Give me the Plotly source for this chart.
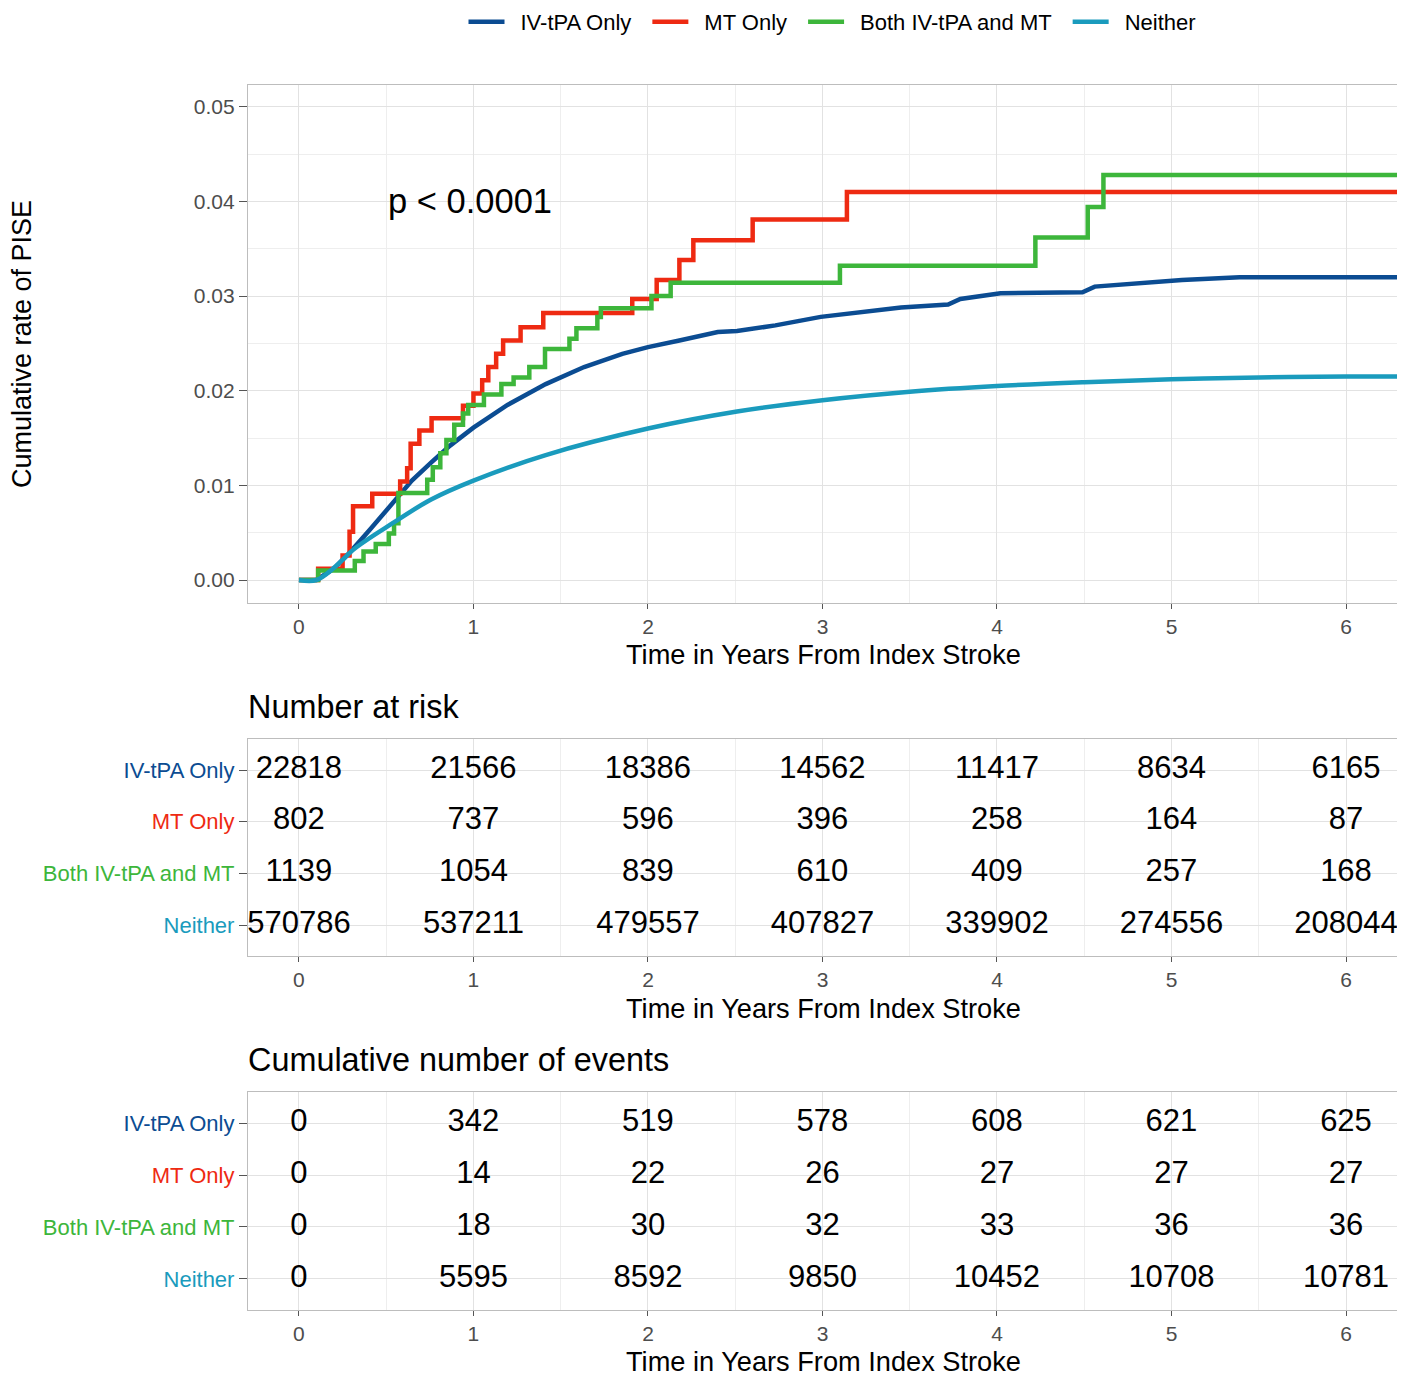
import plotly.graph_objects as go

# ---------------- data ----------------
groups = ["IV-tPA Only", "MT Only", "Both IV-tPA and MT", "Neither"]
colors = ["#0b4c92", "#ee2a12", "#3db63b", "#1a9bbd"]

# IV-tPA Only (many small steps -> dense curve)
ivtpa_t = [0, 0.10, 0.20, 0.296, 0.406, 0.537, 0.647, 0.757, 0.866, 1.0, 1.195, 1.414, 1.634, 1.853,
           2.0, 2.18, 2.40, 2.51, 2.73, 2.99, 3.22, 3.45, 3.72, 3.79, 4.02, 4.49, 4.56, 4.83, 5.06, 5.39, 6.3]
ivtpa_y = [0, 0, 0.0012, 0.0030, 0.0053, 0.0082, 0.0105, 0.0124, 0.0142, 0.0161, 0.0185, 0.0207, 0.0225, 0.0239,
           0.0246, 0.0253, 0.0262, 0.0263, 0.0269, 0.0278, 0.0283, 0.0288, 0.0291, 0.0297, 0.0303, 0.0304, 0.0310,
           0.0314, 0.0317, 0.0320, 0.0320]

# MT Only (step function)
mt_t = [0, 0.11, 0.25, 0.29, 0.31, 0.42, 0.58, 0.62, 0.64, 0.69, 0.76, 0.94, 1.0, 1.05, 1.085, 1.13, 1.17,
        1.27, 1.40, 1.91, 2.05, 2.18, 2.26, 2.60, 3.14, 6.3]
mt_y = [0, 0.0012, 0.0026, 0.0051, 0.0078, 0.0091, 0.0104, 0.0118, 0.0144, 0.0158, 0.0171, 0.0184, 0.0197,
        0.0211, 0.0225, 0.0239, 0.0253, 0.0267, 0.0282, 0.0297, 0.0317, 0.0338, 0.0359, 0.0381, 0.0410, 0.0410]

# Both IV-tPA and MT (step function)
both_t = [0, 0.11, 0.32, 0.37, 0.44, 0.515, 0.545, 0.57, 0.735, 0.767, 0.81, 0.845, 0.89, 0.94, 0.97, 1.06,
          1.16, 1.23, 1.32, 1.41, 1.55, 1.59, 1.71, 1.73, 2.02, 2.13, 3.10, 4.22, 4.52, 4.61, 6.3]
both_y = [0, 0.0010, 0.0020, 0.0030, 0.0038, 0.0049, 0.0060, 0.0092, 0.0106, 0.0119, 0.0134, 0.0148, 0.0164,
          0.0176, 0.0185, 0.0196, 0.0207, 0.0214, 0.0225, 0.0244, 0.0255, 0.0266, 0.0278, 0.0287, 0.0300,
          0.0314, 0.0332, 0.0362, 0.0394, 0.0428, 0.0428]

# Neither (smooth)
neither_t = [0, 0.10, 0.208, 0.318, 0.537, 0.757, 1.0, 1.414, 2.0, 2.51, 3.0, 3.5, 4.0, 4.5, 5.0, 5.5, 6.0, 6.3]
neither_y = [0, 0, 0.0014, 0.0033, 0.0060, 0.0085, 0.0105, 0.0132, 0.0160, 0.0178, 0.0190, 0.0199, 0.0205,
             0.0209, 0.0212, 0.0214, 0.0215, 0.0215]

years = [0, 1, 2, 3, 4, 5, 6]

at_risk = {
    "IV-tPA Only": [22818, 21566, 18386, 14562, 11417, 8634, 6165],
    "MT Only": [802, 737, 596, 396, 258, 164, 87],
    "Both IV-tPA and MT": [1139, 1054, 839, 610, 409, 257, 168],
    "Neither": [570786, 537211, 479557, 407827, 339902, 274556, 208044],
}
cum_events = {
    "IV-tPA Only": [0, 342, 519, 578, 608, 621, 625],
    "MT Only": [0, 14, 22, 26, 27, 27, 27],
    "Both IV-tPA and MT": [0, 18, 30, 32, 33, 36, 36],
    "Neither": [0, 5595, 8592, 9850, 10452, 10708, 10781],
}

p_text = "p < 0.0001"
x_title = "Time in Years From Index Stroke"
y_title = "Cumulative rate of PISE"

# ---------------- figure ----------------
# The page body adds an 8px margin, so the figure is drawn 8px smaller and
# all reference pixel positions are shifted by -8.
OFF = 8
W, H = 1405 - OFF, 1381 - OFF
FONT = "Liberation Sans, Arial, sans-serif"
fig = go.Figure()

curves = [(ivtpa_t, ivtpa_y, "linear"), (mt_t, mt_y, "hv"), (both_t, both_y, "hv"), (neither_t, neither_y, "spline")]
for g, c, (t, y, shape) in zip(groups, colors, curves):
    fig.add_trace(go.Scatter(x=t, y=y, mode="lines", name="\u2002" + g + "\u2002",
                             line=dict(color=c, width=4.5, shape=shape),
                             xaxis="x", yaxis="y"))

for tbl, xa, ya in [(at_risk, "x2", "y2"), (cum_events, "x3", "y3")]:
    for g in groups:
        fig.add_trace(go.Scatter(x=years, y=[g] * len(years), mode="text",
                                 text=[str(v) for v in tbl[g]],
                                 textfont=dict(size=31, color="black", family=FONT),
                                 textposition="middle center", showlegend=False,
                                 cliponaxis=False, xaxis=xa, yaxis=ya, hoverinfo="skip"))

def px2x(px):
    return (px - OFF) / W

def py2y(py):
    return 1 - (py - OFF) / H

xl, xr = 248, 1398
xdom = [px2x(xl), min(1.0, px2x(xr))]
xrange = [-0.292, 6.298]
grid = "#e2e2e2"
minor_grid = "#eeeeee"
border = "#bdbdbd"
tickfont = dict(size=21, color="#4d4d4d", family=FONT)

def xaxis_cfg(anchor):
    return dict(domain=xdom, range=xrange, anchor=anchor, tickmode="array", tickvals=years,
                showgrid=True, gridcolor=grid, gridwidth=1.2,
                minor=dict(tickmode="array", tickvals=[0.5, 1.5, 2.5, 3.5, 4.5, 5.5],
                           showgrid=True, gridcolor=minor_grid, gridwidth=1, ticks=""),
                ticks="outside", ticklen=5, tickcolor="#555555", tickfont=tickfont,
                showline=True, mirror=True, linecolor=border, linewidth=1.3, zeroline=False)

cat_order = list(reversed(groups))
ticktext = [f'<span style="color:{c}">{g}</span>' for g, c in zip(groups, colors)]

def ycat_cfg(top, bottom, anchor):
    return dict(domain=[py2y(bottom), py2y(top)], anchor=anchor, type="category",
                categoryorder="array", categoryarray=cat_order, range=[-0.6, 3.6],
                tickmode="array", tickvals=groups, ticktext=ticktext,
                tickfont=dict(size=22, family=FONT),
                showgrid=True, gridcolor=grid, gridwidth=1.2,
                ticks="outside", ticklen=8, tickcolor="#555555",
                showline=True, mirror=True, linecolor=border, linewidth=1.3, zeroline=False)

fig.update_layout(
    width=W, height=H,
    margin=dict(l=0, r=0, t=0, b=0, autoexpand=False),
    paper_bgcolor="white", plot_bgcolor="white",
    font=dict(family=FONT, color="black"),
    showlegend=True,
    legend=dict(orientation="h", x=px2x(838), xanchor="center", y=1.0 + 7.0 / H, yanchor="top",
                font=dict(size=22, family=FONT, color="black"), itemwidth=36,
                bgcolor="rgba(0,0,0,0)"),
    xaxis=xaxis_cfg("y"),
    yaxis=dict(domain=[py2y(603), py2y(85)], anchor="x", range=[-0.00243, 0.0523],
               tickmode="array", tickvals=[0, 0.01, 0.02, 0.03, 0.04, 0.05], tickformat=".2f",
               showgrid=True, gridcolor=grid, gridwidth=1.2,
               minor=dict(tickmode="array", tickvals=[0.005, 0.015, 0.025, 0.035, 0.045],
                          showgrid=True, gridcolor=minor_grid, gridwidth=1, ticks=""),
               ticks="outside", ticklen=8, tickcolor="#555555", tickfont=tickfont,
               showline=True, mirror=True, linecolor=border, linewidth=1.3, zeroline=False),
    xaxis2=xaxis_cfg("y2"),
    yaxis2=ycat_cfg(739, 956, "x2"),
    xaxis3=xaxis_cfg("y3"),
    yaxis3=ycat_cfg(1092, 1310, "x3"),
)

xc = px2x((xl + xr) / 2)
ann = []
for py in [654, 1008, 1361]:
    ann.append(dict(text=x_title, x=xc, y=py2y(py), xref="paper", yref="paper",
                    xanchor="center", yanchor="middle", showarrow=False,
                    font=dict(size=27.2, family=FONT, color="black")))
ann.append(dict(text=y_title, x=px2x(22), y=py2y(344), xref="paper", yref="paper", textangle=-90,
                xanchor="center", yanchor="middle", showarrow=False,
                font=dict(size=27, family=FONT, color="black")))
ann.append(dict(text="Number at risk", x=px2x(246), y=py2y(707), xref="paper", yref="paper",
                xanchor="left", yanchor="middle", showarrow=False,
                font=dict(size=32.4, family=FONT, color="black")))
ann.append(dict(text="Cumulative number of events", x=px2x(246), y=py2y(1060), xref="paper", yref="paper",
                xanchor="left", yanchor="middle", showarrow=False,
                font=dict(size=32.4, family=FONT, color="black")))
ann.append(dict(text=p_text, x=0.5, y=0.0400, xref="x", yref="y", xanchor="left", yanchor="middle",
                showarrow=False, font=dict(size=34.5, family=FONT, color="black")))
fig.update_layout(annotations=ann)

fig.write_html("out.html")
